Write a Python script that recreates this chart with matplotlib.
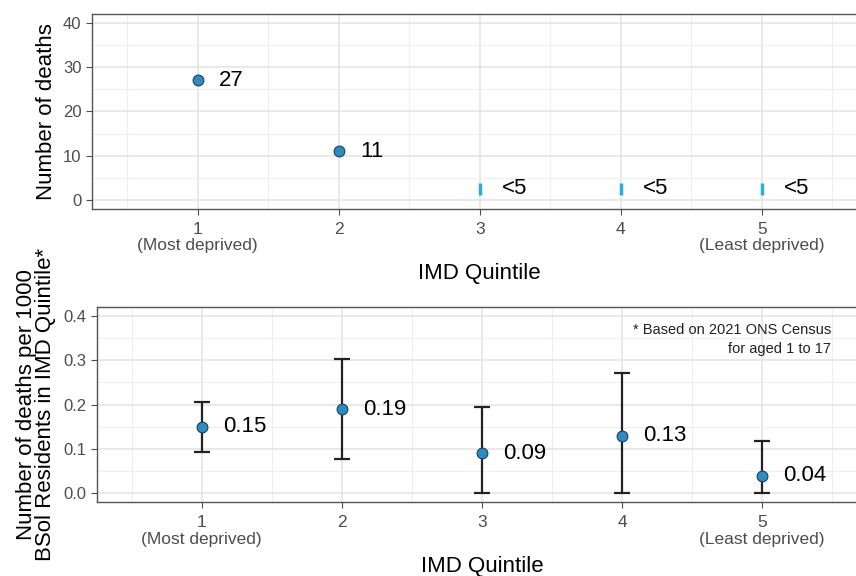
import matplotlib
matplotlib.use("Agg")
import matplotlib.pyplot as plt

# data
quintiles = [1, 2, 3, 4, 5]
tick_labels = ["1\n(Most deprived)", "2", "3", "4", "5\n(Least deprived)"]

death_q = [1, 2]
death_counts = [27, 11]
suppressed_q = [3, 4, 5]
suppressed_val = [2.6, 2.6, 2.6]
suppressed_lab = ["<5", "<5", "<5"]

rates = [0.15, 0.19, 0.09, 0.13, 0.04]
rate_lo = [0.093, 0.078, 0.0, 0.0, 0.0]
rate_hi = [0.207, 0.303, 0.195, 0.272, 0.119]
rate_lab = ["0.15", "0.19", "0.09", "0.13", "0.04"]

point_col = "#2b8cc4"
edge_col = "#1d3f5e"
grid_col = "#e3e3e3"
tick_col = "#4d4d4d"

plt.rcParams["font.family"] = ["Liberation Sans", "DejaVu Sans"]

fig = plt.figure(figsize=(8.56, 5.76), dpi=100)
ax1 = fig.add_axes([0.1075, 0.637, 0.906, 0.339])
ax2 = fig.add_axes([0.113, 0.128, 0.900, 0.339])


def style(ax, ymajor, yminor):
    ax.set_xlim(0.25, 5.75)
    ax.set_xticks(quintiles)
    ax.set_xticklabels(tick_labels, fontsize=12.5, color=tick_col,
                       linespacing=1.15)
    ax.set_xticks([0.5, 1.5, 2.5, 3.5, 4.5, 5.5], minor=True)
    ax.set_yticks(ymajor)
    ax.set_yticks(yminor, minor=True)
    ax.tick_params(axis="y", labelsize=12, colors=tick_col, length=4)
    ax.tick_params(axis="x", length=4, colors=tick_col, pad=5)
    ax.tick_params(which="minor", length=0)
    ax.grid(True, which="major", color=grid_col, lw=1.1)
    ax.grid(True, which="minor", color="#efefef", lw=0.8)
    ax.set_axisbelow(True)
    for s in ax.spines.values():
        s.set_color("#555555")
        s.set_linewidth(1.0)


# top panel: counts
style(ax1, [0, 10, 20, 30, 40], [5, 15, 25, 35])
ax1.set_ylim(-2, 42)
ax1.scatter(death_q, death_counts, s=60, color=point_col, edgecolor=edge_col,
            linewidth=0.8, zorder=3)
for q, v in zip(death_q, death_counts):
    ax1.text(q + 0.15, v, str(v), fontsize=16, va="center", ha="left")
ax1.scatter(suppressed_q, suppressed_val, marker="|", s=80, color="#2aaee0",
            linewidth=2.5, zorder=3)
for q, v, t in zip(suppressed_q, suppressed_val, suppressed_lab):
    ax1.text(q + 0.16, v, t, fontsize=16, va="center", ha="left")
ax1.set_ylabel("Number of deaths", fontsize=16, labelpad=4)
ax1.set_xlabel("IMD Quintile", fontsize=16, labelpad=7)

# bottom panel: rates
style(ax2, [0.0, 0.1, 0.2, 0.3, 0.4], [0.05, 0.15, 0.25, 0.35])
ax2.set_ylim(-0.02, 0.42)
err_lo = [r - lo for r, lo in zip(rates, rate_lo)]
err_hi = [hi - r for r, hi in zip(rates, rate_hi)]
ax2.errorbar(quintiles, rates, yerr=[err_lo, err_hi], fmt="none",
             ecolor="#222222", elinewidth=1.6, capsize=6, capthick=1.6, zorder=2)
ax2.scatter(quintiles, rates, s=60, color=point_col, edgecolor=edge_col,
            linewidth=0.8, zorder=3)
for q, v, t in zip(quintiles, rates, rate_lab):
    ax2.text(q + 0.15, v, t, fontsize=16, va="center", ha="left")
ax2.text(0.953, 0.92, "* Based on 2021 ONS Census\nfor aged 1 to 17",
         transform=ax2.transAxes, ha="right", va="top", fontsize=10.5,
         linespacing=1.5, color="#222222")
ax2.set_ylabel("Number of deaths per 1000\nBSol Residents in IMD Quintile*",
               fontsize=16, labelpad=5, linespacing=0.9)
ax2.set_xlabel("IMD Quintile", fontsize=16, labelpad=7)

fig.savefig("out.png", dpi=100)
